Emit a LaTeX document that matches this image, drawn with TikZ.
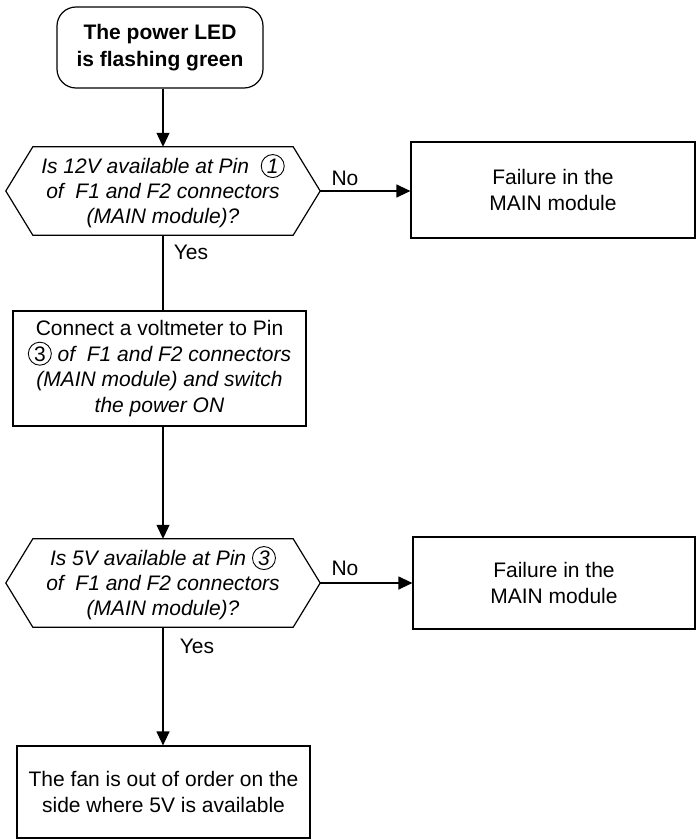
\documentclass[tikz,border=0pt]{standalone}
\usepackage{fontspec}
\setmainfont{Liberation Sans}
\usetikzlibrary{arrows.meta,calc}

% circled pin numbers, built once and reused inside the node texts
\newsavebox\pinA
\newsavebox\pinB
\newsavebox\pinC
\newcommand\makepin[2]{\sbox#1{\fontsize{21}{25}\selectfont
  \begin{pgfpicture}%
    \pgfsetbaseline{0pt}%
    \pgfsetlinewidth{0.9pt}%
    \pgfpathcircle{\pgfpoint{0pt}{7.5pt}}{11.5pt}%
    \pgfusepath{stroke}%
    \pgftext[base]{#2}%
  \end{pgfpicture}}}

\tikzset{
  line/.style={line width=1.2pt, draw=black},
  arr/.style={line, -{Triangle[length=14pt,width=13pt]}},
  flowbox/.style={draw, line width=1.2pt, inner sep=0pt, align=center,
    font=\fontsize{21}{25.5}\selectfont},
  decision/.style={inner sep=0pt, align=center,
    font=\fontsize{21}{25}\selectfont\itshape},
  lbl/.style={inner sep=0pt, font=\fontsize{21}{25}\selectfont},
}

\begin{document}
\makepin\pinA{\itshape 1}
\makepin\pinB{3}
\makepin\pinC{\itshape 3}
\begin{tikzpicture}[x=1pt,y=-1pt]
\useasboundingbox (0,0) rectangle (696,840);

% start
\node[flowbox, rounded corners=19pt, minimum width=206pt, minimum height=81pt,
  font=\fontsize{21}{27}\selectfont\bfseries] (start) at (160,47.5)
  {The power LED\\is flashing green};

% first check
\node[decision, minimum width=260pt, minimum height=88pt] (q1) at (163,191)
  {Is 12V available at Pin\ \ \usebox\pinA\\of\ \ F1 and F2 connectors\\(MAIN module)?};
\draw[line] (q1.north west) -- (q1.north east) -- ($(q1.east)+(27,0)$) coordinate (q1r)
  -- (q1.south east) -- (q1.south west) -- ($(q1.west)+(-27,0)$) coordinate (q1l) -- cycle;

\node[flowbox, minimum width=284pt, minimum height=96pt] (f1) at (553,190)
  {Failure in the\\MAIN module};

% voltmeter step
\node[flowbox, minimum width=293pt, minimum height=115pt] (box2) at (159.5,368.5)
  {Connect a voltmeter to Pin\\\usebox\pinB\ \itshape of\ \ F1 and F2 connectors\\\itshape (MAIN module) and switch\\\itshape the power ON};

% second check
\node[decision, minimum width=260pt, minimum height=88pt] (q2) at (163,583)
  {Is 5V available at Pin \usebox\pinC\\of\ \ F1 and F2 connectors\\(MAIN module)?};
\draw[line] (q2.north west) -- (q2.north east) -- ($(q2.east)+(27,0)$) coordinate (q2r)
  -- (q2.south east) -- (q2.south west) -- ($(q2.west)+(-27,0)$) coordinate (q2l) -- cycle;

\node[flowbox, minimum width=282pt, minimum height=92pt] (f2) at (554,583)
  {Failure in the\\MAIN module};

% result
\node[flowbox, minimum width=293pt, minimum height=92pt] (box3) at (163.5,792)
  {The fan is out of order on the\\side where 5V is available};

% connectors
\draw[arr] (start.south -| q1.north) -- (q1.north);
\draw[arr] (q1r) -- (q1r -| f1.west);
\draw[line] (q1.south) -- (q1.south |- box2.north);
\draw[arr] (q1.south |- box2.south) -- (q2.north);
\draw[arr] (q2r) -- (q2r -| f2.west);
\draw[arr] (q2.south) -- (q2.south |- box3.north);

% branch labels
\node[lbl] (no1) at (345,178) {No};
\node[lbl] (yes1) at (191,252) {Yes};
\node[lbl] (no2) at (345,568) {No};
\node[lbl] (yes2) at (197,646) {Yes};
\end{tikzpicture}
\end{document}
